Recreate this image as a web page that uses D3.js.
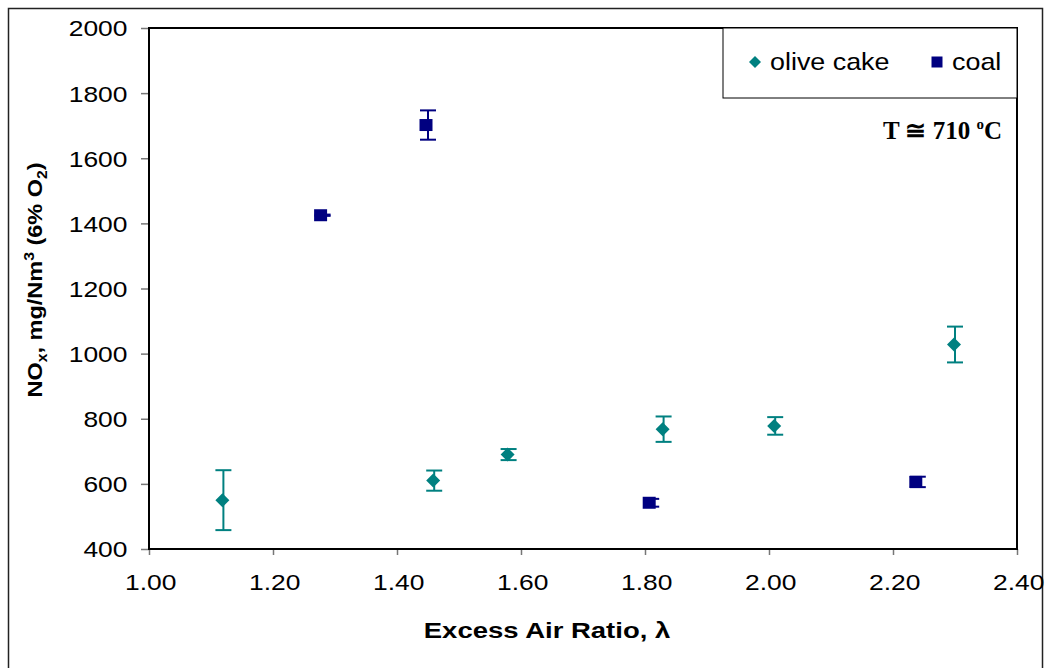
<!DOCTYPE html>
<html>
<head>
<meta charset="utf-8">
<title>NOx vs excess air ratio</title>
<style>
body { margin: 0; background: #fff; }
svg { display: block; font-family: "Liberation Sans", Arial, sans-serif; }
.axis .domain { display: none; }
.axis line { stroke: #777; stroke-width: 1.5; }
.axis text { font-size: 22px; fill: #000; }
</style>
</head>
<body>
<svg width="1049" height="668"></svg>
<script src="https://d3js.org/d3.v7.min.js"></script>
<script>
// olive cake series
var oliveX   = [1.12, 1.46, 1.58, 1.83, 2.01, 2.30];
var oliveY   = [550, 610, 690, 768, 778, 1028];
var oliveErr = [92, 31, 17, 39, 27, 55];
// coal series
var coalX   = [1.28, 1.45, 1.81, 2.24];
var coalY   = [1425, 1702, 542, 606];
var coalErr = [2, 45, 12, 16];

var xTicks = [1.0, 1.2, 1.4, 1.6, 1.8, 2.0, 2.2, 2.4];
var yTicks = [400, 600, 800, 1000, 1200, 1400, 1600, 1800, 2000];

var teal = "#008080", navy = "#000080";
var stretch = 1.2;   // source picture's text is wider than it is tall

var svg = d3.select("svg"),
    plot = {left: 149, top: 28, right: 1017, bottom: 549};

var x = d3.scaleLinear().domain([1.0, 2.4]).range([plot.left, plot.right]);
var y = d3.scaleLinear().domain([400, 2000]).range([plot.bottom, plot.top]);

// outer frame
svg.append("rect")
    .attr("x", 8.5).attr("y", 8.5)
    .attr("width", 1034).attr("height", 700)
    .attr("fill", "none").attr("stroke", "#222").attr("stroke-width", 1.5);

// axes
var gy = svg.append("g").attr("class", "axis")
    .attr("transform", "translate(" + plot.left + ",0)")
    .call(d3.axisLeft(y).tickValues(yTicks).tickSize(8).tickFormat(d3.format("d")));
gy.selectAll("text")
    .attr("x", -18).attr("dy", "0.36em")
    .attr("transform", "scale(" + stretch + ",1)");

var gx = svg.append("g").attr("class", "axis")
    .attr("transform", "translate(0," + plot.bottom + ")")
    .call(d3.axisBottom(x).tickValues(xTicks).tickSize(6).tickFormat(d3.format(".2f")));
gx.selectAll("text")
    .attr("y", 41).attr("dy", 0).attr("x", 1)
    .attr("transform", "scale(" + stretch + ",1)");

// plot border and axis lines
svg.append("rect")
    .attr("x", plot.left).attr("y", plot.top)
    .attr("width", plot.right - plot.left).attr("height", plot.bottom - plot.top)
    .attr("fill", "none").attr("stroke", "#000").attr("stroke-width", 2);

// error bars + markers
function drawSeries(xs, ys, es, color, shape, shift) {
  var data = xs.map(function(v, i) { return {x: v, y: ys[i], e: es[i]}; });
  var g = svg.append("g");
  var eb = g.selectAll("g.err").data(data).enter().append("g")
      .attr("stroke", color).attr("stroke-width", 2);
  eb.append("line")
      .attr("x1", function(d) { return x(d.x); }).attr("x2", function(d) { return x(d.x); })
      .attr("y1", function(d) { return y(d.y + d.e); }).attr("y2", function(d) { return y(d.y - d.e); });
  eb.append("line")
      .attr("x1", function(d) { return x(d.x) - 8; }).attr("x2", function(d) { return x(d.x) + 8; })
      .attr("y1", function(d) { return y(d.y + d.e); }).attr("y2", function(d) { return y(d.y + d.e); });
  eb.append("line")
      .attr("x1", function(d) { return x(d.x) - 8; }).attr("x2", function(d) { return x(d.x) + 8; })
      .attr("y1", function(d) { return y(d.y - d.e); }).attr("y2", function(d) { return y(d.y - d.e); });
  g.selectAll("path.m").data(data).enter().append("path")
      .attr("d", shape)
      .attr("fill", color)
      .attr("transform", function(d) { return "translate(" + (x(d.x) + shift) + "," + y(d.y) + ")"; });
}
var diamond = "M0,-7L7,0L0,7L-7,0Z";
var square = "M-6.5,-6L6.5,-6L6.5,6L-6.5,6Z";
drawSeries(oliveX, oliveY, oliveErr, teal, diamond, -1);
drawSeries(coalX, coalY, coalErr, navy, square, -2);

// legend
var lg = svg.append("g");
lg.append("rect")
    .attr("x", 723).attr("y", plot.top)
    .attr("width", plot.right - 723).attr("height", 70)
    .attr("fill", "#fff").attr("stroke", "#000").attr("stroke-width", 1);
lg.append("path").attr("d", "M0,-6L6,0L0,6L-6,0Z").attr("fill", teal)
    .attr("transform", "translate(755,62)");
lg.append("text").attr("font-size", 24)
    .attr("transform", "translate(770,70) scale(1.12,1)").text("olive cake");
lg.append("path").attr("d", "M-5.5,-5.5L5.5,-5.5L5.5,5.5L-5.5,5.5Z").attr("fill", navy)
    .attr("transform", "translate(937,62)");
lg.append("text").attr("font-size", 24)
    .attr("transform", "translate(952,70) scale(1.12,1)").text("coal");

// temperature note
var note = svg.append("text")
    .attr("x", 1002).attr("y", 139)
    .attr("text-anchor", "end")
    .attr("font-family", "'Liberation Serif', 'Times New Roman', serif")
    .attr("font-weight", "bold").attr("font-size", 25);
note.append("tspan").text("T \u2245 710 ");
note.append("tspan").attr("font-size", 15).attr("dy", -10).text("o");
note.append("tspan").attr("dy", 10).text("C");

// axis titles
var xt = svg.append("text")
    .attr("transform", "translate(547,638) scale(1.25,1)")
    .attr("text-anchor", "middle")
    .attr("font-weight", "bold").attr("font-size", 22);
xt.append("tspan").text("Excess Air Ratio, \u03bb");

var yt = svg.append("text")
    .attr("transform", "translate(42,280) rotate(-90) scale(1.12,1)")
    .attr("text-anchor", "middle")
    .attr("font-weight", "bold").attr("font-size", 21);
yt.append("tspan").text("NO");
yt.append("tspan").attr("font-size", 14).attr("dy", 5).text("x");
yt.append("tspan").attr("dy", -5).text(", mg/Nm");
yt.append("tspan").attr("font-size", 14).attr("dy", -8).text("3");
yt.append("tspan").attr("dy", 8).text(" (6% O");
yt.append("tspan").attr("font-size", 14).attr("dy", 5).text("2");
yt.append("tspan").attr("dy", -5).text(")");
</script>
</body>
</html>
